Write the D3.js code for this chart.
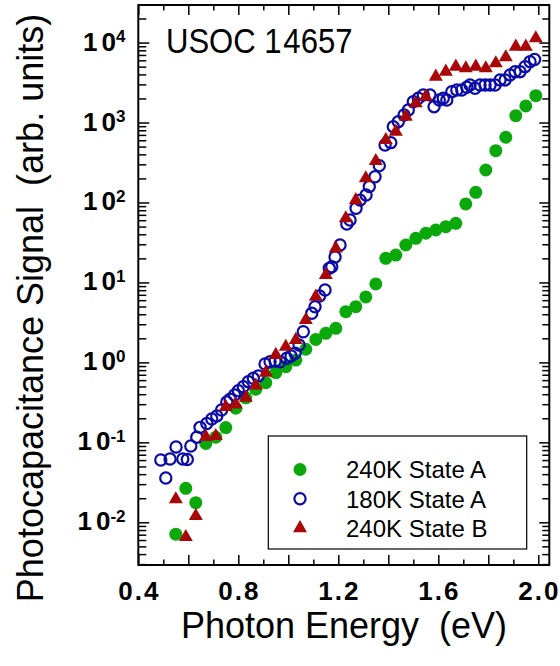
<!DOCTYPE html>
<html>
<head>
<meta charset="utf-8">
<script src="https://cdn.jsdelivr.net/npm/d3@7"></script>
<style>
  body { margin: 0; background: #fff; }
  svg { display: block; font-family: "Liberation Sans", Arial, Helvetica, sans-serif; }
</style>
</head>
<body>
<svg id="chart" width="560" height="666"></svg>
<script>
// Photocapacitance spectra of sample USOC 14657 (photon energy in eV, signal in arb. units)

// 240K, State A
const energy240A = [0.55, 0.59, 0.63, 0.67, 0.71, 0.75, 0.79, 0.83, 0.87, 0.91, 0.95, 0.99, 1.03,
  1.07, 1.11, 1.15, 1.19, 1.23, 1.27, 1.31, 1.35, 1.39, 1.43, 1.47, 1.51, 1.55, 1.59, 1.63, 1.67,
  1.71, 1.75, 1.79, 1.83, 1.87, 1.91, 1.95, 1.99];
const signal240A = [0.0071, 0.0266, 0.0176, 0.097, 0.116, 0.153, 0.267, 0.36, 0.461, 0.557, 0.743,
  0.884, 1.07, 1.46, 1.94, 2.31, 2.67, 4.31, 4.98, 6.58, 9.57, 20.0, 22.0, 29.4, 35.6, 41.2, 45.3,
  49.8, 54.9, 95.8, 134, 255, 444, 654, 1218, 1611, 2167];

// 180K, State A
const energy180A = [0.490, 0.510, 0.527, 0.551, 0.578, 0.596, 0.610, 0.634, 0.647, 0.674, 0.694,
  0.714, 0.733, 0.754, 0.767, 0.785, 0.800, 0.820, 0.840, 0.860, 0.880, 0.907, 0.927, 0.947, 0.967,
  0.994, 1.011, 1.027, 1.043, 1.060, 1.094, 1.107, 1.125, 1.147, 1.164, 1.174, 1.187, 1.207, 1.234,
  1.247, 1.271, 1.287, 1.311, 1.324, 1.347, 1.364, 1.387, 1.410, 1.420, 1.440, 1.463, 1.480, 1.500,
  1.520, 1.540, 1.567, 1.583, 1.604, 1.620, 1.634, 1.654, 1.674, 1.694, 1.714, 1.727, 1.747, 1.767,
  1.787, 1.807, 1.827, 1.847, 1.867, 1.887, 1.907, 1.927, 1.947, 1.967, 1.985];
const signal180A = [0.0601, 0.0358, 0.0619, 0.0875, 0.0619, 0.0610, 0.0900, 0.116, 0.154, 0.172,
  0.196, 0.214, 0.254, 0.320, 0.346, 0.391, 0.443, 0.496, 0.574, 0.632, 0.676, 0.955, 1.02, 1.04,
  1.02, 1.13, 1.20, 1.30, 1.65, 2.42, 4.11, 4.97, 6.77, 8.05, 15.0, 15.7, 20.8, 29.4, 53.8, 60.4,
  84.6, 107, 124, 158, 210, 289, 524, 560, 887, 1025, 1243, 1435, 1823, 2011, 2212, 2212, 1578,
  1914, 2011, 1914, 2432, 2553, 2553, 2760, 2950, 2680, 2950, 2950, 2950, 2950, 3410, 3410, 3940,
  4325, 4325, 5000, 5770, 6150];

// 240K, State B
const energy240B = [0.55, 0.59, 0.63, 0.67, 0.71, 0.75, 0.79, 0.83, 0.87, 0.91, 0.95, 0.99, 1.03,
  1.07, 1.11, 1.15, 1.19, 1.23, 1.27, 1.31, 1.35, 1.39, 1.43, 1.47, 1.51, 1.55, 1.59, 1.63, 1.67,
  1.71, 1.75, 1.79, 1.83, 1.87, 1.91, 1.95, 1.99];
const signal240B = [0.0194, 0.00655, 0.0120, 0.117, 0.120, 0.277, 0.297, 0.362, 0.514, 0.743, 1.24,
  1.57, 1.91, 3.39, 6.64, 12.4, 26.7, 63.4, 107, 201, 330, 605, 769, 1184, 1741, 2105, 3743, 4323,
  4997, 4768, 4997, 4768, 5510, 6550, 8890, 8890, 11320];

const seriesNames = ["240K State A", "180K State A", "240K State B"];
const seriesColors = ["#0aa80a", "#0a0aa8", "#aa0808"];

// axis ticks and labels
const xMajorTicks = [0.4, 0.6, 0.8, 1.0, 1.2, 1.4, 1.6, 1.8, 2.0];
const xMinorTicks = [0.5, 0.7, 0.9, 1.1, 1.3, 1.5, 1.7, 1.9];
const xTickLabels = [0.4, 0.8, 1.2, 1.6, 2.0];
const yDecadeExponents = [-2, -1, 0, 1, 2, 3, 4];

const titleText = "USOC 14657";
const xTitle = "Photon Energy  (eV)";
const yTitle = "Photocapacitance Signal  (arb. units)";

// ---- layout ----
const L = 138.3, R = 549.3, T = 5, B = 565;
const svg = d3.select("#chart");

const x = d3.scaleLinear().domain([0.4, 2.044]).range([L, R]);
const y = d3.scaleLog().domain([0.002923, 29510]).range([B, T]);

// minor log ticks (2..9 per decade) inside the domain
const yDecades = d3.range(-3, 5).map(e => Math.pow(10, e));
const yMinorTicks = [];
yDecades.forEach(d => { for (let m = 2; m <= 9; m++) { const v = m * d; if (v > y.domain()[0] && v < y.domain()[1]) yMinorTicks.push(v); } });
const yMajorTicks = yDecadeExponents.map(e => Math.pow(10, e));

function tickAxis(gen, values, size, transform) {
  const g = svg.append("g").attr("transform", transform)
    .call(gen.tickValues(values).tickSize(size).tickFormat(""));
  g.select(".domain").remove();
  g.selectAll(".tick line").attr("stroke", "#000").attr("stroke-width", 1.5);
  g.selectAll(".tick text").remove();
  return g;
}

// inward ticks on all four sides
tickAxis(d3.axisBottom(x), xMajorTicks, -10, `translate(0,${B})`);
tickAxis(d3.axisBottom(x), xMinorTicks, -5.5, `translate(0,${B})`);
tickAxis(d3.axisTop(x), xMajorTicks, -10, `translate(0,${T})`);
tickAxis(d3.axisTop(x), xMinorTicks, -5.5, `translate(0,${T})`);
tickAxis(d3.axisLeft(y), yMajorTicks, -11, `translate(${L},0)`);
tickAxis(d3.axisLeft(y), yMinorTicks, -8, `translate(${L},0)`);
tickAxis(d3.axisRight(y), yMajorTicks, -10, `translate(${R},0)`);
tickAxis(d3.axisRight(y), yMinorTicks, -7, `translate(${R},0)`);

// frame
svg.append("rect").attr("x", L).attr("y", T).attr("width", R - L).attr("height", B - T)
  .attr("fill", "none").attr("stroke", "#000").attr("stroke-width", 2);

// x tick labels
svg.append("g").selectAll("text").data(xTickLabels).join("text")
  .attr("x", d => x(d) + 1).attr("y", 600)
  .attr("text-anchor", "middle").attr("font-size", 26).attr("font-weight", "bold")
  .attr("letter-spacing", 2)
  .text(d => d.toFixed(1));

// y tick labels 10^n
const yl = svg.append("g").selectAll("text").data(yDecadeExponents).join("text")
  .attr("x", 125.5).attr("y", d => y(Math.pow(10, d)) + 8)
  .attr("text-anchor", "end").attr("font-size", 26).attr("font-weight", "bold");
yl.append("tspan").text("1");
yl.append("tspan").attr("dx", 4).text("0");
yl.append("tspan").attr("dy", -8.5).attr("font-size", 17)
  .text(d => d < 0 ? "-" + (-d) : String(d));

// axis titles
svg.append("text").attr("x", 344).attr("y", 638).attr("text-anchor", "middle")
  .attr("font-size", 36).style("white-space", "pre").text(xTitle);
svg.append("text").attr("transform", "translate(42.5,308) rotate(-90)")
  .attr("text-anchor", "middle").attr("font-size", 36).style("white-space", "pre").text(yTitle);

// sample label
const tl = svg.append("text").attr("transform", "translate(166,53.3) scale(0.9,1)")
  .attr("font-size", 34.5);
tl.append("tspan").text(titleText.slice(0, 6));
tl.append("tspan").attr("dx", 2).text(titleText.slice(6));

// ---- data markers ----
const tri = d3.symbol().type(d3.symbolTriangle).size(85);
const pts = (e, s) => e.map((v, i) => ({ e: v, s: s[i] }));

function drawSeries(i, data, g) {
  if (i === 0) {
    g.selectAll("circle").data(data).join("circle")
      .attr("cx", d => x(d.e)).attr("cy", d => y(d.s)).attr("r", 6.5)
      .attr("fill", seriesColors[0]);
  } else if (i === 1) {
    g.selectAll("circle").data(data).join("circle")
      .attr("cx", d => x(d.e)).attr("cy", d => y(d.s)).attr("r", 5.6)
      .attr("fill", "none").attr("stroke", seriesColors[1]).attr("stroke-width", 2.2);
  } else {
    g.selectAll("path").data(data).join("path")
      .attr("transform", d => `translate(${x(d.e)},${y(d.s)})`)
      .attr("d", tri).attr("fill", seriesColors[2]);
  }
}

const plot = svg.append("g");
drawSeries(0, pts(energy240A, signal240A), plot.append("g"));
drawSeries(1, pts(energy180A, signal180A), plot.append("g"));
drawSeries(2, pts(energy240B, signal240B), plot.append("g"));

// ---- legend ----
const lg = svg.append("g");
lg.append("rect").attr("x", 268.3).attr("y", 436).attr("width", 258.4).attr("height", 113)
  .attr("fill", "#fff").attr("stroke", "#000").attr("stroke-width", 1.2);
seriesNames.forEach((name, i) => {
  const cy = 469.5 + i * 29.3;
  const g = lg.append("g");
  if (i === 0) g.append("circle").attr("cx", 300).attr("cy", cy).attr("r", 6.5).attr("fill", seriesColors[0]);
  else if (i === 1) g.append("circle").attr("cx", 300).attr("cy", cy).attr("r", 5.6)
    .attr("fill", "none").attr("stroke", seriesColors[1]).attr("stroke-width", 2.2);
  else g.append("path").attr("transform", `translate(300,${cy})`).attr("d", tri).attr("fill", seriesColors[2]);
  g.append("text").attr("x", 346).attr("y", cy + 8.8).attr("font-size", 24).text(name);
});
</script>
</body>
</html>
